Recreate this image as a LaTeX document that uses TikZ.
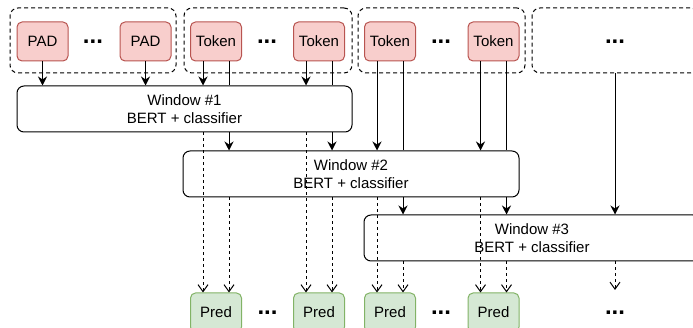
\documentclass[tikz,border=0pt]{standalone}
\usepackage{fontspec}
\setmainfont{Liberation Sans}
\usetikzlibrary{arrows.meta}
\definecolor{tokfill}{HTML}{F8CECC}
\definecolor{tokdraw}{HTML}{B85450}
\definecolor{predfill}{HTML}{D5E8D4}
\definecolor{preddraw}{HTML}{82B366}
\tikzset{
  group/.style={draw, line width=1pt, dash pattern=on 4pt off 3pt, rounded corners=8pt, minimum width=166pt, minimum height=65pt, inner sep=0pt},
  tok/.style={draw=tokdraw, fill=tokfill, line width=1pt, rounded corners=5pt, minimum width=51pt, minimum height=39pt, inner sep=0pt},
  pred/.style={tok, draw=preddraw, fill=predfill},
  window/.style={draw, fill=white, line width=1pt, rounded corners=7pt, minimum width=336pt, minimum height=46pt, inner sep=0pt, align=center},
  dots/.style={font=\fontsize{24}{24}\selectfont\bfseries, inner sep=0pt, anchor=base},
  feed/.style={line width=1pt, -{Stealth[length=9pt, width=9pt, inset=3pt]}},
  predline/.style={line width=1pt, dash pattern=on 3pt off 3pt, -{Straight Barb[length=7pt, width=10pt]}}
}
\begin{document}
\begin{tikzpicture}[x=1pt, y=-1pt, font=\fontsize{15}{18}\selectfont]
\useasboundingbox (0,0) rectangle (693,328);
% input windows
\node[group] (g1) at (93,40.5) {};
\node[group, minimum width=168pt] (g2) at (268,40.5) {};
\node[group, minimum width=167pt] (g3) at (441.5,40.5) {};
\node[group] (g4) at (615,40.5) {};
\node[tok] (pad1) at (42.5,41.5) {PAD};
\node[tok] (pad2) at (145.5,41.5) {PAD};
\node[tok] (tok1) at (216,41.5) {Token};
\node[tok] (tok2) at (319,41.5) {Token};
\node[tok] (tok3) at (390,41.5) {Token};
\node[tok] (tok4) at (493.5,41.5) {Token};
\node[dots] (d1) at (93,44) {...};
\node[dots] (d2) at (267,44) {...};
\node[dots] (d3) at (441,44) {...};
\node[dots] (d4) at (615,44) {...};
% sliding windows
\node[window, minimum width=335pt] (w1) at (184.5,109) {Window \#1\\BERT + classifier};
\node[window] (w2) at (351,174) {Window \#2\\BERT + classifier};
\node[window] (w3) at (532,238) {Window \#3\\BERT + classifier};
% predictions
\node[pred] (pred1) at (216,312.5) {Pred};
\node[pred] (pred2) at (319,312.5) {Pred};
\node[pred] (pred3) at (390,312.5) {Pred};
\node[pred] (pred4) at (493.5,312.5) {Pred};
\node[dots] (d5) at (267.5,314.5) {...};
\node[dots] (d6) at (441,314.5) {...};
\node[dots] (d7) at (615,314.5) {...};
\coordinate (end3) at (615,290);
\foreach \t in {tok1,tok2,tok3,tok4} {
  \coordinate (\t-l) at ([xshift=-13pt]\t.south);
  \coordinate (\t-r) at ([xshift=13pt]\t.south);
}
% tokens into the windows
\draw[feed] (pad1.south) -- (pad1.south |- w1.north);
\draw[feed] (pad2.south) -- (pad2.south |- w1.north);
\draw[feed] (tok1-l) -- (tok1-l |- w1.north);
\draw[line width=1pt] (tok1-r) -- (tok1-r |- w1.north);
\draw[feed] (tok1-r |- w1.south) -- (tok1-r |- w2.north);
\draw[feed] (tok2-l) -- (tok2-l |- w1.north);
\draw[line width=1pt] (tok2-r) -- (tok2-r |- w1.north);
\draw[feed] (tok2-r |- w1.south) -- (tok2-r |- w2.north);
\draw[feed] (tok3-l) -- (tok3-l |- w2.north);
\draw[line width=1pt] (tok3-r) -- (tok3-r |- w2.north);
\draw[feed] (tok3-r |- w2.south) -- (tok3-r |- w3.north);
\draw[feed] (tok4-l) -- (tok4-l |- w2.north);
\draw[line width=1pt] (tok4-r) -- (tok4-r |- w2.north);
\draw[feed] (tok4-r |- w2.south) -- (tok4-r |- w3.north);
\draw[feed] (g4.south) -- (g4.south |- w3.north);
% windows into the predictions
\draw[predline] (tok1-l |- w1.south) -- (tok1-l |- pred1.north);
\draw[predline] (tok1-r |- w2.south) -- (tok1-r |- pred1.north);
\draw[predline] (tok2-l |- w1.south) -- (tok2-l |- pred2.north);
\draw[predline] (tok2-r |- w2.south) -- (tok2-r |- pred2.north);
\draw[predline] (tok3-l |- w2.south) -- (tok3-l |- pred3.north);
\draw[predline] (tok3-r |- w3.south) -- (tok3-r |- pred3.north);
\draw[predline] (tok4-l |- w2.south) -- (tok4-l |- pred4.north);
\draw[predline] (tok4-r |- w3.south) -- (tok4-r |- pred4.north);
\draw[predline] (g4.south |- w3.south) -- (end3);
\end{tikzpicture}
\end{document}
